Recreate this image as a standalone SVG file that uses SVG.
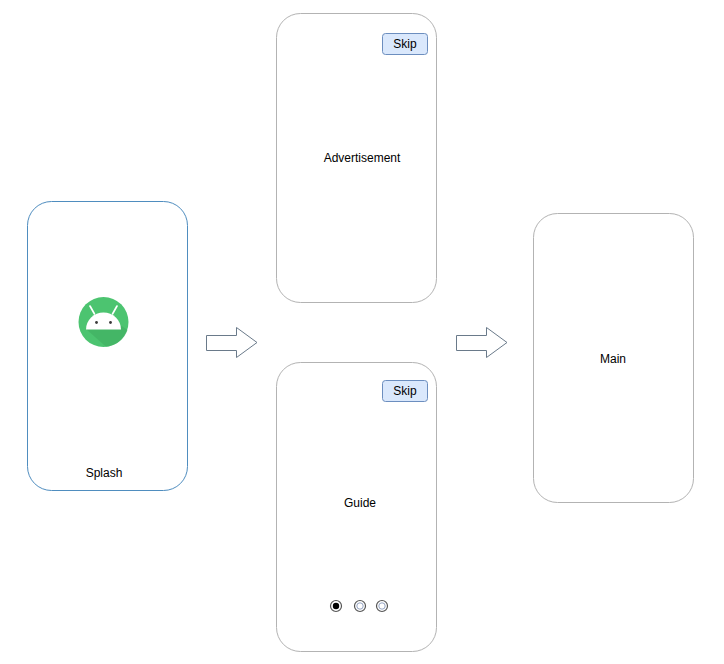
<svg xmlns="http://www.w3.org/2000/svg" width="724" height="664" viewBox="0 0 724 664">
<style>
.screen{fill:#ffffff;stroke:#b3b3b3;stroke-width:1}
.splash{fill:#ffffff;stroke:#4f8dbf;stroke-width:1}
.btn{fill:#dae8fc;stroke:#6c8ebf;stroke-width:1}
.lbl{font-family:"Liberation Sans",Arial,sans-serif;font-size:12px;fill:#000000;text-anchor:middle}
.arrow{fill:#ffffff;stroke:#6a7a8a;stroke-width:1}
.dot{fill:#ffffff;stroke:#555555;stroke-width:1.2}
</style>
<rect width="724" height="664" fill="#ffffff"/>
<g id="splash">
<rect class="splash" x="27.5" y="201.5" width="160" height="289" rx="24" ry="24"/>
<g id="android-icon">
<circle cx="103.5" cy="322" r="25" fill="#4cc470"/>
<path d="M104 314 L127.5 330 A25 25 0 0 1 106 346.8 L86 329 Z" fill="#3fae5f" opacity="0.6"/>
<path d="M86 329.5 A17.5 17 0 0 1 121 329.5 Z" fill="#ffffff"/>
<line x1="90" y1="306" x2="94.5" y2="314" stroke="#ffffff" stroke-width="1.6" stroke-linecap="round"/>
<line x1="117" y1="306" x2="112.5" y2="314" stroke="#ffffff" stroke-width="1.6" stroke-linecap="round"/>
<circle cx="96.5" cy="322.5" r="1.4" fill="#3a3a3a"/>
<circle cx="110.5" cy="322.5" r="1.4" fill="#3a3a3a"/>
</g>
<text class="lbl" x="104" y="477">Splash</text>
</g>
<g id="advertisement">
<rect class="screen" x="276.5" y="13.5" width="160" height="289" rx="24" ry="24"/>
<rect class="btn" x="382.5" y="33.5" width="45" height="21" rx="3" ry="3"/>
<text class="lbl" x="405" y="48">Skip</text>
<text class="lbl" x="362" y="162">Advertisement</text>
</g>
<g id="guide">
<rect class="screen" x="276.5" y="362.5" width="160" height="289" rx="24" ry="24"/>
<rect class="btn" x="382.5" y="380.5" width="45" height="21" rx="3" ry="3"/>
<text class="lbl" x="405" y="395">Skip</text>
<text class="lbl" x="360" y="507">Guide</text>
<g id="dots">
<circle class="dot" cx="336" cy="606" r="5.5"/>
<circle cx="336" cy="606" r="3.2" fill="#000000"/>
<circle class="dot" cx="360" cy="606" r="5.5"/>
<circle cx="360" cy="606" r="3.2" fill="#ffffff" stroke="#8899bb" stroke-width="0.9"/>
<circle class="dot" cx="382" cy="606" r="5.5"/>
<circle cx="382" cy="606" r="3.2" fill="#ffffff" stroke="#8899bb" stroke-width="0.9"/>
</g>
</g>
<g id="main">
<rect class="screen" x="533.5" y="213.5" width="160" height="289" rx="24" ry="24"/>
<text class="lbl" x="613" y="363">Main</text>
</g>
<g id="connectors">
<path class="arrow" d="M206.5 335.5 H236.5 V327.5 L257 342.5 L236.5 357.5 V350.5 H206.5 Z"/>
<path class="arrow" d="M456.5 335.5 H486.5 V327.5 L507 342.5 L486.5 357.5 V350.5 H456.5 Z"/>
</g>
</svg>
